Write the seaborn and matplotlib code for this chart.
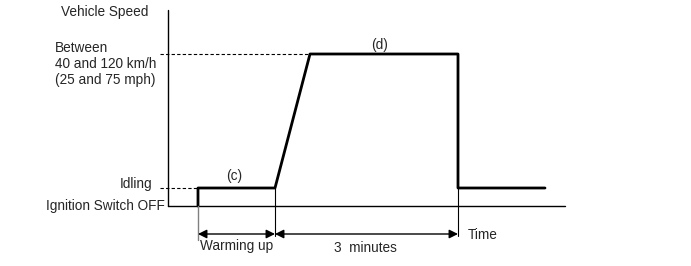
import matplotlib
matplotlib.use("Agg")
import matplotlib.pyplot as plt
import seaborn as sns
import pandas as pd

# Signal profile (time in arbitrary units from the axis origin, speed level units)
time_pts = [30, 30, 107, 142, 290, 290, 377]
speed_pts = [0, 18, 18, 152, 152, 18, 18]
idle_level = 18
high_level = 152
t_start, t_ramp, t_stop = 30, 107, 290

level_labels = ["Idling", "Ignition Switch OFF"]
speed_label_lines = ["Between", "40 and 120 km/h", "(25 and 75 mph)"]

sns.set_theme(style="white")
plt.rcParams['font.family'] = ['Liberation Sans', 'DejaVu Sans']

fig = plt.figure(figsize=(6.91, 2.66), dpi=100)
ax = fig.add_axes([0, 0, 1, 1])
ax.set_xlim(-168, 523)
ax.set_ylim(-60, 206)
ax.axis("off")

df = pd.DataFrame({"t": time_pts, "v": speed_pts})
sns.lineplot(data=df, x="t", y="v", sort=False, color="black", lw=2, ax=ax,
             estimator=None)

# axes
ax.plot([0, 0], [0, 196], color="black", lw=1)
ax.plot([0, 397], [0, 0], color="black", lw=1)

# dashed reference lines
ax.plot([-8, t_start], [idle_level, idle_level], color="black", lw=0.8, ls=(0, (3, 2)))
ax.plot([-8, t_ramp + 35], [high_level, high_level], color="black", lw=0.8, ls=(0, (3, 2)))

# vertical markers
ax.plot([t_start, t_start], [0, -34], color="gray", lw=1)
ax.plot([t_ramp, t_ramp], [idle_level, -30], color="black", lw=0.8)
ax.plot([t_stop, t_stop], [idle_level, -30], color="black", lw=0.8)

# arrows
ax.annotate("", xy=(t_start, -28), xytext=(t_ramp, -28),
            arrowprops=dict(arrowstyle="<|-|>", color="black", lw=1,
                            mutation_scale=13, shrinkA=0, shrinkB=0))
ax.annotate("", xy=(t_ramp, -28), xytext=(t_stop, -28),
            arrowprops=dict(arrowstyle="<|-|>", color="black", lw=1,
                            mutation_scale=13, shrinkA=0, shrinkB=0))

fs = 9.8
ax.text(-20, 194, "Vehicle Speed", ha="right", va="center", fontsize=fs)
for i, line in enumerate(speed_label_lines):
    ax.text(-113, 158 - 16 * i, line, ha="left", va="center", fontsize=fs)
ax.text(-16, 22, level_labels[0], ha="right", va="center", fontsize=fs)
ax.text(-3, 0, level_labels[1], ha="right", va="center", fontsize=fs)
ax.text((t_start + t_ramp) / 2 - 2, 30, "(c)", ha="center", va="center", fontsize=fs)
ax.text(212, 161, "(d)", ha="center", va="center", fontsize=fs)
ax.text(t_start + 2, -40, "Warming up", ha="left", va="center", fontsize=fs)
ax.text(197, -42, "3  minutes", ha="center", va="center", fontsize=fs)
ax.text(300, -29, "Time", ha="left", va="center", fontsize=fs)

fig.savefig("out.png", dpi=100, facecolor="white")
